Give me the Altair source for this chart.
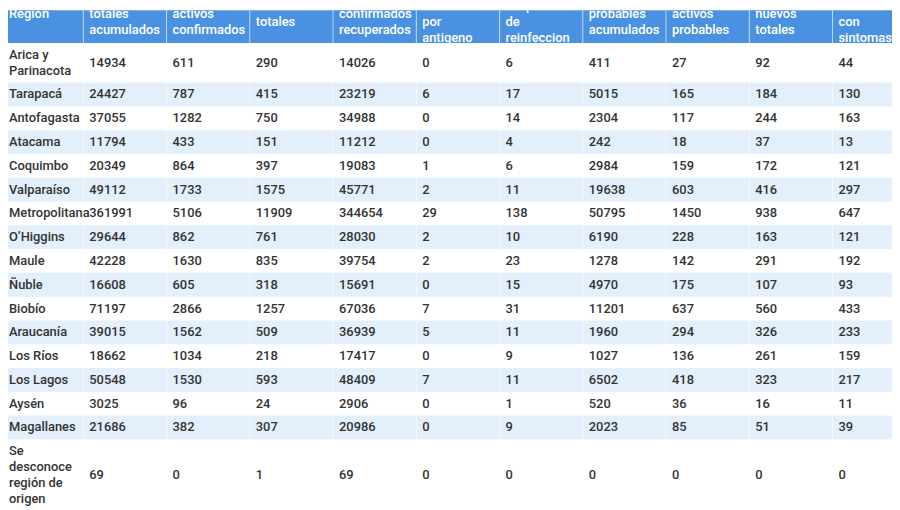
import altair as alt
import pandas as pd

headers = [
    "Region",
    "Casos\ntotales\nacumulados",
    "Casos\nactivos\nconfirmados",
    "Fallecidos\ntotales",
    "Casos\nconfirmados\nrecuperados",
    "Casos\nconfirmados\npor\nantigeno",
    "Casos\nsospecha\nde\nreinfeccion",
    "Casos\nprobables\nacumulados",
    "Casos\nactivos\nprobables",
    "Casos\nnuevos\ntotales",
    "Casos\nnuevos\ncon\nsintomas",
]

regions = [
    "Arica y\nParinacota", "Tarapacá", "Antofagasta", "Atacama", "Coquimbo",
    "Valparaíso", "Metropolitana", "O\u2019Higgins", "Maule", "Ñuble", "Biobío",
    "Araucanía", "Los Ríos", "Los Lagos", "Aysén", "Magallanes",
    "Se\ndesconoce\nregión de\norigen",
]

totales_acumulados = [14934, 24427, 37055, 11794, 20349, 49112, 361991, 29644, 42228, 16608, 71197, 39015, 18662, 50548, 3025, 21686, 69]
activos_confirmados = [611, 787, 1282, 433, 864, 1733, 5106, 862, 1630, 605, 2866, 1562, 1034, 1530, 96, 382, 0]
fallecidos_totales = [290, 415, 750, 151, 397, 1575, 11909, 761, 835, 318, 1257, 509, 218, 593, 24, 307, 1]
confirmados_recuperados = [14026, 23219, 34988, 11212, 19083, 45771, 344654, 28030, 39754, 15691, 67036, 36939, 17417, 48409, 2906, 20986, 69]
confirmados_antigeno = [0, 6, 0, 0, 1, 2, 29, 2, 2, 0, 7, 5, 0, 7, 0, 0, 0]
sospecha_reinfeccion = [6, 17, 14, 4, 6, 11, 138, 10, 23, 15, 31, 11, 9, 11, 1, 9, 0]
probables_acumulados = [411, 5015, 2304, 242, 2984, 19638, 50795, 6190, 1278, 4970, 11201, 1960, 1027, 6502, 520, 2023, 0]
activos_probables = [27, 165, 117, 18, 159, 603, 1450, 228, 142, 175, 637, 294, 136, 418, 36, 85, 0]
nuevos_totales = [92, 184, 244, 37, 172, 416, 938, 163, 291, 107, 560, 326, 261, 323, 16, 51, 0]
nuevos_con_sintomas = [44, 130, 163, 13, 121, 297, 647, 121, 192, 93, 433, 233, 159, 217, 11, 39, 0]

value_cols = [totales_acumulados, activos_confirmados, fallecidos_totales,
              confirmados_recuperados, confirmados_antigeno, sospecha_reinfeccion,
              probables_acumulados, activos_probables, nuevos_totales, nuevos_con_sintomas]

LINE = 16
ncols = len(headers)

# Row geometry derived from number of text lines
hdr_lines = max(h.count("\n") + 1 for h in headers)
hdr_h = LINE * hdr_lines + 6
row_bounds = []
y = hdr_h
for r in regions:
    n = r.count("\n") + 1
    h = max(24, LINE * n + 8)
    row_bounds.append((y, y + h))
    y += h
total_h = y


def first_line_y(center, text):
    n = text.count("\n") + 1
    return center - (n - 1) * LINE / 2


cells = []
for c, h in enumerate(headers):
    yc = hdr_h / 2
    cells.append(dict(col=c, x0=c, x1=c + 1, y0=0, y1=hdr_h, yt=first_line_y(yc, h),
                      text=h, kind="header", band=0))
for i, r in enumerate(regions):
    y0, y1 = row_bounds[i]
    yc = (y0 + y1) / 2
    row_vals = [r] + [str(v[i]) for v in value_cols]
    for c, t in enumerate(row_vals):
        cells.append(dict(col=c, x0=c, x1=c + 1, y0=y0, y1=y1, yt=first_line_y(yc, t),
                          text=t, kind="body", band=i % 2))
df = pd.DataFrame(cells)

seps = pd.DataFrame([dict(x=c, y0=0, y1=total_h) for c in range(1, ncols + 1)])

COLW = 84
xscale = alt.Scale(domain=[8 / COLW, 900 / COLW], nice=False, zero=False)
yscale = alt.Scale(domain=[37, 539], nice=False, zero=False, reverse=True)

base = alt.Chart(df)

header_rect = base.transform_filter(alt.datum.kind == "header").mark_rect(
    color="#4A92E1", clip=True
).encode(
    x=alt.X("x0:Q", scale=xscale, axis=None), x2="x1:Q",
    y=alt.Y("y0:Q", scale=yscale, axis=None), y2="y1:Q",
)

band_rect = base.transform_filter(
    (alt.datum.kind == "body") & (alt.datum.band == 1)
).mark_rect(color="#E3EFFB", clip=True).encode(
    x=alt.X("x0:Q", scale=xscale, axis=None), x2="x1:Q",
    y=alt.Y("y0:Q", scale=yscale, axis=None), y2="y1:Q",
)

sep_rules = alt.Chart(seps).mark_rule(color="white", strokeWidth=1, opacity=0.55, clip=True).encode(
    x=alt.X("x:Q", scale=xscale, axis=None),
    y=alt.Y("y0:Q", scale=yscale, axis=None), y2="y1:Q",
)


def text_layer(kind, color, first):
    cond = (alt.datum.kind == kind) & ((alt.datum.col == 0) if first else (alt.datum.col > 0))
    return base.transform_filter(cond).mark_text(
        align="left", baseline="middle", lineBreak="\n", lineHeight=LINE,
        dx=9 if first else 6, dy=6 if kind == "header" else 0,
        font="Roboto", fontSize=13, fontWeight=500,
        color=color, clip=True,
    ).encode(
        x=alt.X("x0:Q", scale=xscale, axis=None),
        y=alt.Y("yt:Q", scale=yscale, axis=None),
        text="text:N",
    )


chart = alt.layer(
    header_rect, band_rect, sep_rules,
    text_layer("header", "white", True), text_layer("header", "white", False),
    text_layer("body", "#333333", True), text_layer("body", "#333333", False),
).properties(
    width=892, height=502,
    autosize=alt.AutoSizeParams(type="none"), padding=0,
    background="white",
).configure_view(strokeWidth=0)

chart.save("out.html", embed_options={"renderer": "svg", "actions": False})
